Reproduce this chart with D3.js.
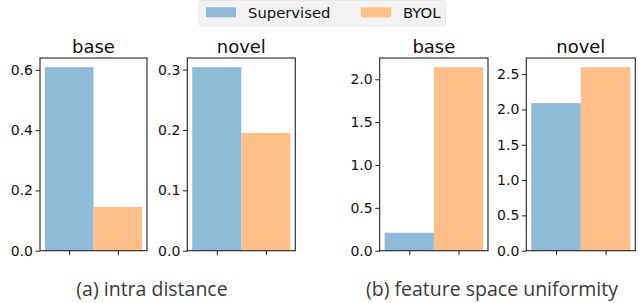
<!DOCTYPE html>
<html lang="en">
  <head>
    <meta charset="utf-8">
    <title>Intra distance / uniformity</title>
    <script type="text/javascript" src="https://d3js.org/d3.v7.min.js"></script>
    <style type="text/css">
      body{
        margin: 0;
        background: white;
      }
      svg text{
        font-family: "DejaVu Sans", sans-serif;
        fill: #111;
      }
      .caption{
        font-family: "Open Sans", sans-serif !important;
        fill: #3a3a3a !important;
      }
    </style>
  </head>
  <body>
    <div id="placeHere"></div>

    <script type="text/javascript">
      //data
      var series = ["Supervised", "BYOL"];
      var colors = ["#8fbbd9", "#ffbf86"];
      var panelTitles = ["base", "novel", "base", "novel"];
      var supervised = [0.609, 0.304, 0.21, 2.089];
      var byol = [0.145, 0.195, 2.141, 2.598];
      var yTicks = [
        [0, 0.2, 0.4, 0.6],
        [0, 0.1, 0.2, 0.3],
        [0, 0.5, 1.0, 1.5, 2.0],
        [0, 0.5, 1.0, 1.5, 2.0, 2.5]
      ];
      var captions = ["(a) intra distance", "(b) feature space uniformity"];

      //width and height
      var w = 644;
      var h = 303;
      var plotTop = 58, plotBottom = 250.7;
      var frames = [[40, 147], [187.3, 295.3], [379.7, 488], [526.3, 635.3]];

      var svg = d3.select("#placeHere")
                  .append("svg")
                  .attr("width", w)
                  .attr("height", h);

      frames.forEach(function(f, p) {
        var vals = [supervised[p], byol[p]];

        var xScale = d3.scaleLinear()
                       .domain([-0.6, 1.6])
                       .range([f[0], f[1]]);

        var yScale = d3.scaleLinear()
                       .domain([0, d3.max(vals) * 1.05])
                       .range([plotBottom, plotTop]);

        var g = svg.append("g");

        //bars
        g.selectAll("rect.bar")
         .data(vals)
         .enter()
         .append("rect")
         .attr("class", "bar")
         .attr("x", function(d, i) { return xScale(i - 0.5); })
         .attr("width", function(d, i) { return xScale(i + 0.5) - xScale(i - 0.5); })
         .attr("y", function(d) { return yScale(d); })
         .attr("height", function(d) { return plotBottom - yScale(d); })
         .attr("fill", function(d, i) { return colors[i]; });

        //frame
        g.append("rect")
         .attr("x", f[0])
         .attr("y", plotTop)
         .attr("width", f[1] - f[0])
         .attr("height", plotBottom - plotTop)
         .attr("fill", "none")
         .attr("stroke", "#222")
         .attr("stroke-width", 1.1);

        //y axis
        var yAxis = d3.axisLeft(yScale)
                      .tickValues(yTicks[p])
                      .tickFormat(d3.format(".1f"))
                      .tickSize(4.5)
                      .tickPadding(2.5);
        var ya = g.append("g")
                  .attr("transform", "translate(" + f[0] + ",0)")
                  .call(yAxis);
        ya.select(".domain").remove();
        ya.selectAll("line").attr("stroke", "#222");
        ya.selectAll("text").attr("font-size", "14px");

        //x axis ticks, no labels
        var xAxis = d3.axisBottom(xScale)
                      .tickValues([0, 1])
                      .tickFormat("")
                      .tickSize(4.5);
        var xa = g.append("g")
                  .attr("transform", "translate(0," + plotBottom + ")")
                  .call(xAxis);
        xa.select(".domain").remove();
        xa.selectAll("line").attr("stroke", "#222");

        //title
        g.append("text")
         .text(panelTitles[p])
         .attr("x", (f[0] + f[1]) / 2)
         .attr("y", 52.7)
         .attr("text-anchor", "middle")
         .attr("font-size", "18px");
      });

      //captions
      svg.selectAll("text.caption")
         .data(captions)
         .enter()
         .append("text")
         .attr("class", "caption")
         .text(function(d) { return d; })
         .attr("x", function(d, i) { return i === 0 ? 152 : 492; })
         .attr("y", 295.5)
         .attr("text-anchor", "middle")
         .attr("font-size", "19.5px");

      //legend
      var legend = svg.append("g");
      legend.append("rect")
            .attr("x", 199)
            .attr("y", 0.5)
            .attr("width", 246.5)
            .attr("height", 25.5)
            .attr("rx", 3)
            .attr("fill", "#f2f2f2")
            .attr("stroke", "#e6e6e6");

      var legendX = [206, 361];
      series.forEach(function(s, i) {
        legend.append("rect")
              .attr("x", legendX[i])
              .attr("y", 7.3)
              .attr("width", 30)
              .attr("height", 10)
              .attr("fill", colors[i]);
        legend.append("text")
              .text(s)
              .attr("x", legendX[i] + 42)
              .attr("y", 17.5)
              .attr("font-size", "14.8px");
      });
    </script>
  </body>
</html>
